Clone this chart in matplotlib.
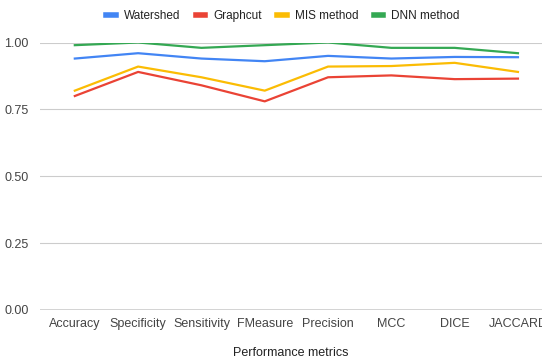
import numpy as np
import matplotlib.pyplot as plt

plt.rcParams['font.family'] = ['Liberation Sans', 'DejaVu Sans']

# 데이터
metrics = ['Accuracy', 'Specificity', 'Sensitivity', 'FMeasure', 'Precision', 'MCC', 'DICE', 'JACCARD']
watershed = [0.94, 0.96, 0.94, 0.93, 0.95, 0.94, 0.946, 0.945]
graphcut = [0.80, 0.89, 0.84, 0.78, 0.87, 0.877, 0.863, 0.865]
mis_method = [0.82, 0.91, 0.87, 0.82, 0.91, 0.912, 0.924, 0.89]
dnn_method = [0.99, 1.00, 0.98, 0.99, 1.00, 0.98, 0.98, 0.96]

series = [('Watershed', watershed, '#4285F4'),
          ('Graphcut', graphcut, '#EA4335'),
          ('MIS method', mis_method, '#FBBC04'),
          ('DNN method', dnn_method, '#34A853')]

fig = plt.figure(figsize=(5.42, 3.62), dpi=100)
ax = fig.add_axes([40/542, 1 - 310/362, 502/542, (310 - 42.5)/362])

x = np.arange(len(metrics))
for name, vals, c in series:
    ax.plot(x, vals, color=c, lw=1.6, label=name, solid_joinstyle='round')

ax.set_ylim(0, 1)
ax.set_xlim(-0.55, 7.38)
ax.set_yticks([0, 0.25, 0.5, 0.75, 1.0])
ax.set_yticklabels(['0.00', '0.25', '0.50', '0.75', '1.00'])
ax.set_xticks(x)
ax.set_xticklabels(metrics)
ax.grid(axis='y', color='#cccccc', lw=0.8)
ax.set_axisbelow(True)
ax.axhline(0, color='#333333', lw=1)
for s in ax.spines.values():
    s.set_visible(False)
ax.tick_params(length=0, labelsize=9, colors='#444444')
ax.tick_params(axis='x', pad=6)
ax.tick_params(axis='y', pad=8)
ax.set_xlabel('Performance metrics', fontsize=9, color='#222222', labelpad=12)

leg = fig.legend(loc='center', bbox_to_anchor=(283/542, 1 - 16/362), ncol=4, frameon=False,
                 fontsize=8.5, handlelength=0.8, handletextpad=0.7, columnspacing=1.3)
for h in leg.get_lines():
    h.set_linewidth(4)
for t in leg.get_texts():
    t.set_color('#222222')

fig.savefig('out.png', dpi=100)
